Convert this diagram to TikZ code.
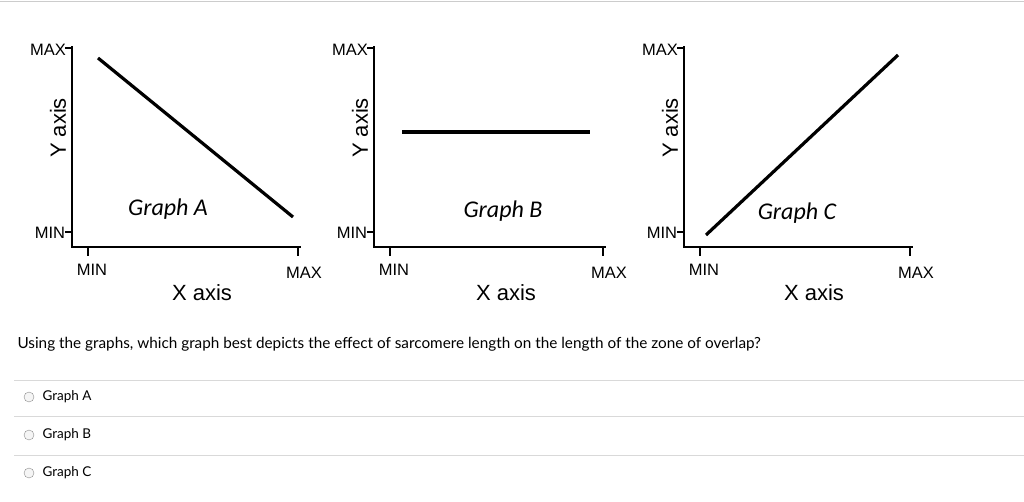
\documentclass[tikz,border=0pt]{standalone}
\usepackage{fontspec}
\setmainfont{Liberation Sans}
\newfontfamily\carl{Carlito}
\newfontfamily\lato{Lato}
\begin{document}
\begin{tikzpicture}[x=1pt,y=-1pt,
  ax/.style={line width=2.4pt,line cap=rect},
  tk/.style={line width=2pt},
  dl/.style={line width=3.2pt},
  lab/.style={font=\fontsize{16.5}{16.5}\selectfont},
  big/.style={font=\fontsize{22}{22}\selectfont},
  gl/.style={font=\carl\itshape\fontsize{24}{24}\selectfont},
  q/.style={font=\lato\fontsize{15.3}{15.3}\selectfont,anchor=west},
  opt/.style={font=\lato\fontsize{13.5}{13.5}\selectfont,anchor=west},
  sep/.style={draw=black!15,line width=0.8pt},
  rb/.style={circle,draw=black!45,fill=black!4,minimum size=10pt,inner sep=0pt}]
\useasboundingbox (0,0) rectangle (1024,502);
\draw[black!20] (0,1) -- (1024,1);
\foreach \n/\ox/\ex in {A/72/300,B/374/605,C/684/912}{
  \coordinate (o\n) at (\ox,247);
  \coordinate (t\n) at (\ox,47);
  \coordinate (e\n) at (\ex,247);
  \draw[ax] (t\n) -- (o\n) -- (e\n);
  \draw[tk] (\ox-7,48) -- (\ox,48);
  \draw[tk] (\ox-7,232) -- (\ox,232);
  \draw[tk] (\ox+16,247) -- (\ox+16,256);
  \draw[tk] (\ex-2,247) -- (\ex-2,256);
  \node[lab] (mx\n) at (\ox-24,50) {MAX};
  \node[lab] (mn\n) at (\ox-22,233) {MIN};
  \node[lab] (xmn\n) at (\ox+20,270) {MIN};
  \node[lab] (xmx\n) at (\ex+4,273) {MAX};
  \node[big,rotate=90] (ya\n) at (\ox-14,128) {Y axis};
}
\node[big] (xaA) at (202,293) {X axis};
\node[big] (xaB) at (506,293) {X axis};
\node[big] (xaC) at (814,293) {X axis};
\coordinate (a1) at (98,58); \coordinate (a2) at (293,217);
\draw[dl] (a1) -- (a2);
\coordinate (b1) at (402,132); \coordinate (b2) at (590,132);
\draw[dl] (b1) -- (b2);
\coordinate (c1) at (706,235); \coordinate (c2) at (898,55);
\draw[dl] (c1) -- (c2);
\node[gl] (gA) at (168,209) {Graph A};
\node[gl] (gB) at (503,211) {Graph B};
\node[gl] (gC) at (797,213) {Graph C};
\node[q] (qq) at (14,344) {Using the graphs, which graph best depicts the effect of sarcomere length on the length of the zone of overlap?};
\draw[sep] (14,380) -- (1024,380);
\draw[sep] (14,416) -- (1024,416);
\draw[sep] (14,455) -- (1024,455);
\node[rb] (r1) at (29,397) {}; \node[opt] (o1) at (39,397) {Graph A};
\node[rb] (r2) at (29,435) {}; \node[opt] (o2) at (39,435) {Graph B};
\node[rb] (r3) at (29,473) {}; \node[opt] (o3) at (39,473) {Graph C};
\end{tikzpicture}
\end{document}
